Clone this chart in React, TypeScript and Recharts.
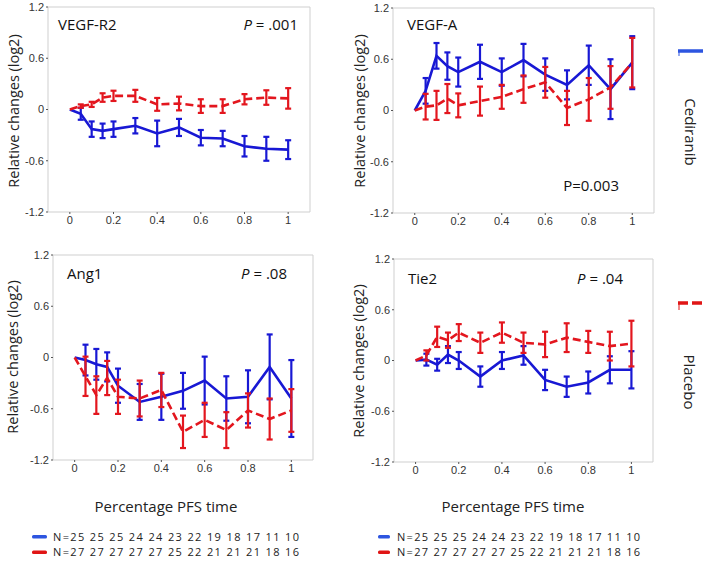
import React from 'react';
import { LineChart, Line, XAxis, YAxis, ErrorBar } from 'recharts';

const pfsTime = [0, 0.05, 0.1, 0.15, 0.2, 0.3, 0.4, 0.5, 0.6, 0.7, 0.8, 0.9, 1];
const xTicks = [0, 0.2, 0.4, 0.6, 0.8, 1];
const yTicks = [-1.2, -0.6, 0, 0.6, 1.2];

// VEGF-R2
const vegfr2Cediranib = [0, -0.05, -0.23, -0.25, -0.23, -0.19, -0.28, -0.21, -0.33, -0.34, -0.43, -0.46, -0.47];
const vegfr2CediranibErr = [null, 0.07, 0.09, 0.085, 0.09, 0.09, 0.15, 0.1, 0.09, 0.09, 0.12, 0.14, 0.11];
const vegfr2Placebo = [0, 0.04, 0.06, 0.14, 0.16, 0.16, 0.06, 0.07, 0.04, 0.04, 0.12, 0.14, 0.13];
const vegfr2PlaceboErr = [null, 0.02, 0.03, 0.05, 0.06, 0.07, 0.075, 0.08, 0.08, 0.08, 0.06, 0.085, 0.12];

// VEGF-A
const vegfaCediranib = [0, 0.23, 0.64, 0.52, 0.45, 0.57, 0.45, 0.59, 0.42, 0.3, 0.53, 0.25, 0.56];
const vegfaCediranibErr = [null, 0.15, 0.15, 0.16, 0.17, 0.2, 0.16, 0.19, 0.19, 0.17, 0.23, 0.35, 0.31];
const vegfaPlacebo = [0, 0.045, 0.06, 0.14, 0.06, 0.11, 0.16, 0.25, 0.33, 0.03, 0.13, 0.27, 0.56];
const vegfaPlaceboErr = [null, 0.15, 0.17, 0.17, 0.14, 0.17, 0.14, 0.16, 0.18, 0.2, 0.25, 0.25, 0.29];

// Ang1
const ang1Cediranib = [0, -0.03, -0.08, -0.11, -0.33, -0.52, -0.46, -0.39, -0.27, -0.48, -0.46, -0.11, -0.48];
const ang1CediranibErr = [null, 0.18, 0.18, 0.17, 0.2, 0.21, 0.27, 0.21, 0.28, 0.26, 0.31, 0.38, 0.45];
const ang1Placebo = [0, -0.22, -0.44, -0.24, -0.46, -0.48, -0.38, -0.87, -0.73, -0.85, -0.62, -0.72, -0.62];
const ang1PlaceboErr = [null, 0.23, 0.22, 0.2, 0.2, 0.21, 0.2, 0.19, 0.2, 0.21, 0.2, 0.24, 0.25];

// Tie2
const tie2Cediranib = [0, 0.01, -0.05, 0.07, 0, -0.19, 0, 0.06, -0.23, -0.31, -0.26, -0.11, -0.11];
const tie2CediranibErr = [null, 0.07, 0.07, 0.1, 0.1, 0.12, 0.1, 0.11, 0.12, 0.12, 0.13, 0.16, 0.22];
const tie2Placebo = [0, 0.06, 0.28, 0.24, 0.33, 0.21, 0.33, 0.21, 0.19, 0.27, 0.22, 0.17, 0.2];
const tie2PlaceboErr = [null, 0.06, 0.12, 0.09, 0.1, 0.12, 0.12, 0.12, 0.15, 0.17, 0.13, 0.17, 0.27];

const nCediranib = [25, 25, 25, 24, 24, 23, 22, 19, 18, 17, 11, 10];
const nPlacebo = [27, 27, 27, 27, 27, 25, 22, 21, 21, 21, 18, 16];

const BLUE = '#1818d4';
const RED = '#e3161e';
const AXIS = '#cfcfcf';
const TICKC = '#333';
const LABEL_FONT = '"Open Sans", sans-serif';
const TICK_FONT = '"Liberation Sans", Arial, sans-serif';

type PanelProps = {
  plotLeft: number; plotTop: number; plotW: number; plotH: number;
  ced: number[]; cedErr: (number | null)[]; pla: number[]; plaErr: (number | null)[];
};

function Panel({ plotLeft, plotTop, plotW, plotH, ced, cedErr, pla, plaErr }: PanelProps) {
  const data = pfsTime.map((t, i) => ({ t, ced: ced[i], cedErr: cedErr[i], pla: pla[i], plaErr: plaErr[i] }));
  const YW = 50, XH = 25, MT = 10, MR = 10;
  const tickStyle = { fontSize: 11, fill: TICKC, fontFamily: TICK_FONT };
  return (
    <div style={{ position: 'absolute', left: plotLeft - YW, top: plotTop - MT }}>
      <LineChart width={plotW + YW + MR} height={plotH + MT + XH} data={data}
        margin={{ top: MT - 1, right: MR - 1, bottom: 0, left: 0 }}>
        <XAxis dataKey="t" type="number" domain={[-0.1, 1.1]} ticks={xTicks} allowDataOverflow
          height={XH} tickSize={2} tickMargin={2} stroke={AXIS}
          tickLine={{ stroke: '#555' }} tick={tickStyle} />
        <XAxis xAxisId="top" orientation="top" dataKey="t" type="number" domain={[-0.1, 1.1]} ticks={xTicks}
          allowDataOverflow height={1} tickSize={2} stroke={AXIS} tickLine={{ stroke: '#666' }} tick={false} />
        <YAxis type="number" domain={[-1.2, 1.2]} ticks={yTicks} allowDataOverflow width={YW}
          tickSize={2} tickMargin={2} stroke={AXIS} tickLine={{ stroke: '#555' }} tick={tickStyle} />
        <YAxis yAxisId="right" orientation="right" type="number" domain={[-1.2, 1.2]} ticks={yTicks}
          allowDataOverflow width={1} tickSize={2} stroke={AXIS} tickLine={{ stroke: '#666' }} tick={false} />
        <Line dataKey="ced" stroke={BLUE} strokeWidth={2.6} dot={false} isAnimationActive={false}>
          <ErrorBar dataKey="cedErr" direction="y" width={3} stroke={BLUE} strokeWidth={2.2} />
        </Line>
        <Line dataKey="pla" stroke={RED} strokeWidth={2.6} strokeDasharray="8 4" dot={false} isAnimationActive={false}>
          <ErrorBar dataKey="plaErr" direction="y" width={3} stroke={RED} strokeWidth={2.2} />
        </Line>
      </LineChart>
    </div>
  );
}

function YLabel({ x, y }: { x: number; y: number }) {
  return (
    <text transform={`translate(${x},${y}) rotate(-90)`} textAnchor="middle" dominantBaseline="central"
      fontSize={14.5} fontFamily={LABEL_FONT} fill="#222">Relative changes (log2)</text>
  );
}

function PText({ x, y, v }: { x: number; y: number; v: string }) {
  return (
    <text x={x} y={y} textAnchor="end" fontSize={15} fontFamily={LABEL_FONT} fill="#111">
      <tspan fontStyle="italic">P</tspan> = {v}
    </text>
  );
}

function NRows({ mx, tx, len, mw }: { mx: number; tx: number; len: number; mw: number }) {
  return (
    <g>
      <rect x={mx} y={535} width={mw} height={3.5} rx={1.5} fill="#2d55e0" />
      <rect x={mx} y={550.5} width={mw} height={3.5} rx={1.5} fill="#e01515" />
      <text x={tx} y={540.5} fontSize={11} fontFamily={LABEL_FONT} fill="#222"
        textLength={len} lengthAdjust="spacing">{'N=' + nCediranib.join('  ')}</text>
      <text x={tx} y={556} fontSize={11} fontFamily={LABEL_FONT} fill="#222"
        textLength={len} lengthAdjust="spacing">{'N=' + nPlacebo.join('  ')}</text>
    </g>
  );
}

export default function App() {
  return (
    <div style={{ position: 'absolute', left: 0, top: 0, width: 709, height: 562, background: '#fff' }}>
      <Panel plotLeft={48} plotTop={7} plotW={262} plotH={205}
        ced={vegfr2Cediranib} cedErr={vegfr2CediranibErr} pla={vegfr2Placebo} plaErr={vegfr2PlaceboErr} />
      <Panel plotLeft={393} plotTop={8} plotW={261} plotH={205}
        ced={vegfaCediranib} cedErr={vegfaCediranibErr} pla={vegfaPlacebo} plaErr={vegfaPlaceboErr} />
      <Panel plotLeft={53} plotTop={255} plotW={260} plotH={205}
        ced={ang1Cediranib} cedErr={ang1CediranibErr} pla={ang1Placebo} plaErr={ang1PlaceboErr} />
      <Panel plotLeft={394} plotTop={259} plotW={259} plotH={203}
        ced={tie2Cediranib} cedErr={tie2CediranibErr} pla={tie2Placebo} plaErr={tie2PlaceboErr} />
      <svg width={709} height={562} style={{ position: 'absolute', left: 0, top: 0, pointerEvents: 'none' }}>
        <YLabel x={13} y={111} />
        <YLabel x={359} y={111} />
        <YLabel x={12} y={357} />
        <YLabel x={358} y={361} />

        <text x={58} y={30} fontSize={15} fontFamily={LABEL_FONT} fill="#111">VEGF-R2</text>
        <PText x={298} y={30} v=".001" />
        <text x={407} y={30} fontSize={15} fontFamily={LABEL_FONT} fill="#111">VEGF-A</text>
        <text x={619} y={191} textAnchor="end" fontSize={15} fontFamily={LABEL_FONT} fill="#111">P=0.003</text>
        <text x={67} y={279} fontSize={15} fontFamily={LABEL_FONT} fill="#111">Ang1</text>
        <PText x={287} y={279} v=".08" />
        <text x={408} y={284} fontSize={15} fontFamily={LABEL_FONT} fill="#111">Tie2</text>
        <PText x={623} y={284} v=".04" />

        <line x1={678} y1={51} x2={703} y2={51} stroke="#2d55e0" strokeWidth={3.5} />
        <line x1={679} y1={52} x2={679} y2={56} stroke="#2d55e0" strokeWidth={1} />
        <text transform="translate(691,132) rotate(90)" textAnchor="middle" dominantBaseline="central"
          fontSize={15} fontFamily={LABEL_FONT} fill="#222">Cediranib</text>
        <line x1={678} y1={303} x2={703} y2={303} stroke="#e01515" strokeWidth={3.5} strokeDasharray="10 4" />
        <line x1={679} y1={304} x2={679} y2={310} stroke="#e01515" strokeWidth={1} />
        <text transform="translate(690,382) rotate(90)" textAnchor="middle" dominantBaseline="central"
          fontSize={15} fontFamily={LABEL_FONT} fill="#222">Placebo</text>

        <text x={166} y={512} textAnchor="middle" fontSize={15} fontFamily={LABEL_FONT} fill="#222">Percentage PFS time</text>
        <text x={513} y={512} textAnchor="middle" fontSize={15} fontFamily={LABEL_FONT} fill="#222">Percentage PFS time</text>

        <NRows mx={32} tx={53} len={246} mw={15} />
        <NRows mx={378} tx={397} len={243} mw={12} />
      </svg>
    </div>
  );
}
